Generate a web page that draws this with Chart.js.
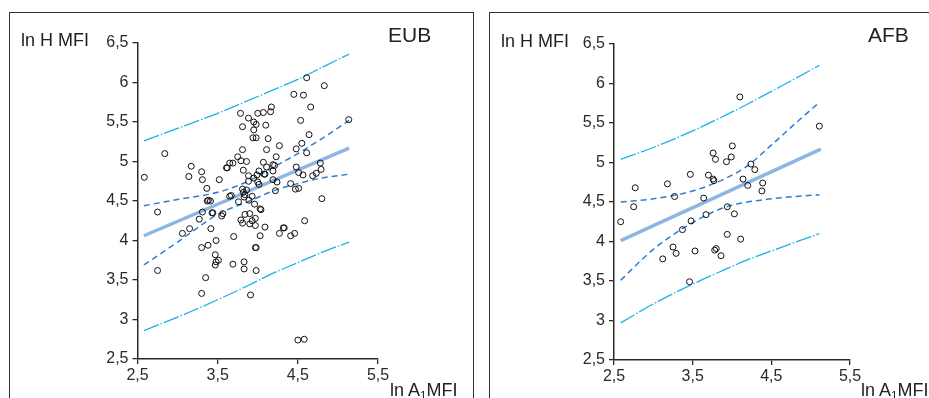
<!DOCTYPE html>
<html>
<head>
<meta charset="utf-8">
<script src="https://cdn.jsdelivr.net/npm/chart.js@4"></script>
<style>
  html, body { margin: 0; padding: 0; background: #fff; }
  body { width: 929px; height: 398px; position: relative; overflow: hidden;
         font-family: "Liberation Sans", Arial, sans-serif; color: #222; }
  .panel { position: absolute; top: 12px; height: 420px; border: 1.5px solid #333; box-sizing: border-box; }
  canvas { position: absolute; top: 0; }
  .lbl { position: absolute; line-height: 1; white-space: nowrap; }
  .lbl sub { font-size: 0.65em; vertical-align: -0.25em; }
</style>
</head>
<body>
<div class="panel" style="left:9px; width:465px;"></div>
<div class="panel" style="left:489px; width:460px;"></div>
<canvas id="eub" width="470" height="398" style="left:0"></canvas>
<canvas id="afb" width="451" height="398" style="left:478px"></canvas>

<div class="lbl" style="left:21px; top:31px; font-size:18px;">ln H MFI</div>
<div class="lbl" style="left:388px; top:24px; font-size:21px;">EUB</div>
<div class="lbl" style="left:390px; top:381px; font-size:18px;">ln A<sub>1</sub>MFI</div>

<div class="lbl" style="left:501px; top:32px; font-size:18px;">ln H MFI</div>
<div class="lbl" style="left:868px; top:24px; font-size:21px;">AFB</div>
<div class="lbl" style="left:861px; top:381px; font-size:18px;">ln A<sub>1</sub>MFI</div>

<script>
// ---- EUB : points mesurés (ln A1MFI, ln H MFI)
const eubX = [2.585, 2.84, 3.14, 3.17, 3.30, 3.31, 3.365, 3.52, 3.61, 3.62, 3.65, 3.69, 3.75, 3.79, 3.81, 3.86, 3.82,
  3.785, 3.81, 3.885, 3.95, 3.98, 3.95, 3.94, 3.98, 4.0, 4.07, 4.17, 4.16, 4.10, 4.13, 4.11, 4.27, 4.23, 4.07, 4.11,
  4.19, 4.21, 4.19, 4.015, 3.99, 4.08, 4.09, 3.885, 3.95, 3.885, 4.0, 4.015, 4.19, 4.24, 4.22, 3.81, 3.86, 3.82, 3.67,
  3.65, 3.93, 3.83, 3.385, 4.45, 4.57, 4.61, 4.83, 4.66, 4.535, 4.64, 5.135, 4.55, 4.48, 4.61, 4.48, 4.51, 4.565, 4.685,
  4.73, 4.78, 4.79, 4.41, 4.47, 4.51, 4.80,
  2.75, 3.06, 3.15, 3.27, 3.31, 3.37, 3.41, 3.43, 3.44, 3.415, 3.30, 3.38, 3.48, 3.47, 3.51, 3.48, 3.47, 3.565, 3.55,
  3.70, 3.69, 3.83, 3.83, 3.98, 3.35, 3.30, 3.91, 2.75, 3.84, 3.90, 3.79, 3.81, 3.90, 3.93, 3.97, 3.97, 4.04, 4.09,
  4.03, 3.97, 3.98, 3.96, 3.76, 4.27, 4.32, 4.33, 4.41, 4.46, 4.585, 4.50, 4.58, 3.84, 3.89, 4.03];
const eubY = [4.80, 5.10, 4.81, 4.94, 4.87, 4.77, 4.66, 4.77, 4.92, 4.92, 4.98, 4.98, 5.06, 5.01, 5.15, 5.00, 4.89,
  5.61, 5.44, 5.55, 5.50, 5.47, 5.40, 5.30, 5.30, 5.61, 5.62, 5.69, 5.63, 5.46, 5.29, 5.15, 5.20, 5.06, 4.99, 4.93,
  4.96, 4.95, 4.88, 4.88, 4.83, 4.84, 4.84, 4.82, 4.79, 4.75, 4.74, 4.71, 4.77, 4.74, 4.63, 4.65, 4.64, 4.61, 4.57,
  4.56, 4.56, 4.55, 4.51, 5.85, 5.84, 6.06, 5.96, 5.69, 5.52, 5.34, 5.53, 5.23, 5.16, 5.11, 4.93, 4.86, 4.83, 4.82,
  4.85, 4.98, 4.90, 4.72, 4.65, 4.66, 4.53,
  4.36, 4.09, 4.15, 4.27, 4.36, 4.50, 4.50, 4.35, 4.35, 4.15, 3.91, 3.94, 4.00, 3.82, 3.75, 3.73, 3.69, 4.34, 4.31,
  4.05, 3.70, 3.73, 3.64, 3.62, 3.53, 3.33, 3.31, 3.62, 4.33, 4.34, 4.26, 4.22, 4.21, 4.25, 4.28, 4.19, 4.39, 4.17,
  4.06, 3.91, 3.91, 4.46, 4.49, 4.09, 4.16, 4.16, 4.06, 4.09, 4.25, 2.74, 2.75, 4.58, 4.51, 4.40];

// EUB : droite de régression et bandes
const eubFitX = [2.58, 5.14];
const eubFitY = [4.06, 5.17];
const eubBandX = [2.58, 3.0, 3.5, 3.9, 4.2, 4.5, 4.8, 5.14];
const eubConfUp = [4.44, 4.52, 4.61, 4.76, 4.93, 5.10, 5.29, 5.52];
const eubConfLo = [3.69, 3.98, 4.33, 4.50, 4.63, 4.72, 4.79, 4.84];
const eubPredUp = [5.26, 5.42, 5.61, 5.78, 5.91, 6.04, 6.19, 6.36];
const eubPredLo = [2.86, 3.03, 3.25, 3.44, 3.59, 3.72, 3.85, 3.98];

// ---- AFB
const afbX = [4.004, 3.76, 3.79, 3.99, 3.93, 4.24, 4.29, 3.47, 3.70, 3.76, 3.77, 4.14, 4.39, 4.20, 4.38, 2.77, 3.18,
  3.27, 3.64, 2.75, 2.585, 3.94, 4.03, 3.67, 3.48, 3.37, 3.94, 4.11, 3.25, 3.29, 3.53, 3.80, 3.78, 3.86, 3.12, 3.46,
  4.10, 5.11];
const afbY = [5.21, 5.12, 5.04, 5.07, 5.01, 4.98, 4.91, 4.85, 4.84, 4.79, 4.77, 4.79, 4.74, 4.71, 4.64, 4.68, 4.73,
  4.57, 4.55, 4.44, 4.25, 4.44, 4.35, 4.34, 4.26, 4.15, 4.09, 4.03, 3.93, 3.85, 3.88, 3.91, 3.89, 3.82, 3.78, 3.49,
  5.83, 5.46];

const afbFitX = [2.585, 5.13];
const afbFitY = [4.01, 5.17];
const afbBandX = [2.585, 3.0, 3.5, 3.9, 4.2, 4.5, 4.8, 5.11];
const afbConfUp = [4.50, 4.54, 4.64, 4.79, 4.96, 5.22, 5.49, 5.76];
const afbConfLo = [3.51, 3.90, 4.24, 4.43, 4.50, 4.54, 4.57, 4.59];
const afbPredUp = [5.04, 5.19, 5.40, 5.59, 5.74, 5.90, 6.06, 6.23];
const afbPredLo = [2.97, 3.21, 3.46, 3.64, 3.77, 3.88, 3.99, 4.10];

const xTicks = [2.5, 3.5, 4.5, 5.5];

const FONT = '"Liberation Sans", Arial, sans-serif';
const INK = '#2a2a2a';

function pts(xs, ys) { return xs.map((x, i) => ({ x, y: ys[i] })); }

function fmt(v) {
  return Number.isInteger(v) ? String(v) : v.toFixed(1).replace('.', ',');
}

function lineSet(xs, ys, color, width, dash, curved) {
  return {
    data: pts(xs, ys),
    showLine: true,
    borderColor: color,
    borderWidth: width,
    borderDash: dash,
    pointRadius: 0,
    fill: false,
    tension: curved ? 0.4 : 0,
    cubicInterpolationMode: curved ? 'monotone' : 'default',
  };
}

function draw(id, p, pad) {
  const ctx = document.getElementById(id).getContext('2d');
  return new Chart(ctx, {
    type: 'scatter',
    data: {
      datasets: [
        {
          data: pts(p.x, p.y),
          pointRadius: 3,
          pointBorderWidth: 1,
          pointBorderColor: '#111',
          pointBackgroundColor: 'rgba(0,0,0,0)',
        },
        lineSet(p.fitX, p.fitY, '#8db7e2', 3.5, [], false),
        lineSet(p.bandX, p.confUp, '#2b7fd3', 1.5, [6, 4], true),
        lineSet(p.bandX, p.confLo, '#2b7fd3', 1.5, [6, 4], true),
        lineSet(p.bandX, p.predUp, '#1ab3e6', 1.3, [16, 2, 1.5, 2], true),
        lineSet(p.bandX, p.predLo, '#1ab3e6', 1.3, [16, 2, 1.5, 2], true),
      ]
    },
    options: {
      responsive: false,
      animation: false,
      layout: { padding: pad },
      plugins: { legend: { display: false }, tooltip: { enabled: false } },
      scales: {
        x: {
          type: 'linear', min: 2.5, max: 5.5,
          afterFit: s => { s.height = 30; },
          afterBuildTicks: s => { s.ticks = xTicks.map(v => ({ value: v })); },
          grid: { drawOnChartArea: false, drawTicks: true, tickLength: 5, color: INK, lineWidth: 1.3 },
          border: { display: true, color: INK, width: 1.5 },
          ticks: { color: INK, font: { family: FONT, size: 16 }, padding: 2, callback: fmt, maxRotation: 0 },
        },
        y: {
          type: 'linear', min: 2.5, max: 6.5,
          afterFit: s => { s.width = 40; },
          grid: { drawOnChartArea: false, drawTicks: true, tickLength: 5, color: INK, lineWidth: 1.3 },
          border: { display: true, color: INK, width: 1.5 },
          ticks: { stepSize: 0.5, color: INK, font: { family: FONT, size: 16 }, padding: 4, callback: fmt },
        }
      }
    }
  });
}

draw('eub', {
  x: eubX, y: eubY, fitX: eubFitX, fitY: eubFitY, bandX: eubBandX,
  confUp: eubConfUp, confLo: eubConfLo, predUp: eubPredUp, predLo: eubPredLo
}, { left: 97.5, top: 43, right: 92, bottom: 9 });

draw('afb', {
  x: afbX, y: afbY, fitX: afbFitX, fitY: afbFitY, bandX: afbBandX,
  confUp: afbConfUp, confLo: afbConfLo, predUp: afbPredUp, predLo: afbPredLo
}, { left: 96, top: 44, right: 79, bottom: 8 });
</script>
</body>
</html>
